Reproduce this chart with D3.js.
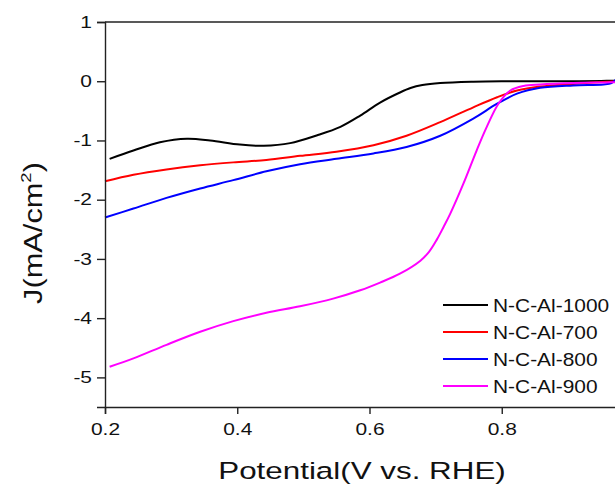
<!DOCTYPE html>
<html>
<head>
<meta charset="utf-8">
<script src="https://cdn.jsdelivr.net/npm/d3@7"></script>
<style>
  body { margin: 0; background: #fff; }
  svg { display: block; }
  text { font-family: "Liberation Sans", Arial, sans-serif; fill: #111; }
</style>
</head>
<body>
<div id="chart"></div>
<script>
// series values
var seriesNames = ["N-C-Al-1000", "N-C-Al-700", "N-C-Al-800", "N-C-Al-900"];
var seriesColors = ["#000000", "#ff0000", "#0000ff", "#ff00ff"];

var potential1000 = [0.207, 0.243, 0.283, 0.324, 0.359, 0.404, 0.44, 0.48, 0.52, 0.556, 0.586, 0.616, 0.646, 0.662, 0.68, 0.707, 0.757, 0.8, 0.85, 0.9, 0.95, 0.975];
var current1000   = [-1.31, -1.17, -1.03, -0.97, -1.0, -1.07, -1.09, -1.045, -0.915, -0.77, -0.58, -0.36, -0.19, -0.115, -0.065, -0.03, -0.007, 0, 0, 0, 0.005, 0.01];

var potential700 = [0.2, 0.243, 0.293, 0.344, 0.394, 0.444, 0.495, 0.55, 0.606, 0.656, 0.707, 0.757, 0.793, 0.823, 0.858, 0.908, 0.959, 0.975];
var current700   = [-1.69, -1.58, -1.49, -1.42, -1.37, -1.33, -1.26, -1.19, -1.08, -0.92, -0.69, -0.44, -0.27, -0.157, -0.09, -0.045, -0.01, 0.0];

var potential800 = [0.2, 0.243, 0.293, 0.344, 0.394, 0.444, 0.495, 0.55, 0.606, 0.656, 0.707, 0.757, 0.793, 0.823, 0.858, 0.908, 0.954, 0.966, 0.975];
var current800   = [-2.30, -2.15, -1.97, -1.81, -1.67, -1.52, -1.40, -1.31, -1.22, -1.11, -0.92, -0.63, -0.38, -0.21, -0.11, -0.07, -0.055, -0.03, 0.06];

var potential900 = [0.207, 0.243, 0.293, 0.344, 0.394, 0.444, 0.495, 0.545, 0.586, 0.616, 0.646, 0.677, 0.69, 0.702, 0.712, 0.722, 0.742, 0.762, 0.777, 0.795, 0.813, 0.833, 0.858, 0.908, 0.959, 0.975];
var current900   = [-4.82, -4.68, -4.45, -4.23, -4.05, -3.91, -3.80, -3.67, -3.53, -3.40, -3.25, -3.03, -2.88, -2.67, -2.46, -2.24, -1.73, -1.17, -0.78, -0.38, -0.157, -0.08, -0.055, -0.03, -0.02, -0.015];

var xTicks = [0.2, 0.4, 0.6, 0.8];
var yTicks = [1, 0, -1, -2, -3, -4, -5];

var potentials = [potential1000, potential700, potential800, potential900];
var currents = [current1000, current700, current800, current900];

var margin = {top: 22, right: -19, bottom: 81, left: 105},
    W = 615, H = 488,
    width = W - margin.left - margin.right,
    height = H - margin.top - margin.bottom;

var svg = d3.select("#chart").append("svg")
    .attr("width", W)
    .attr("height", H)
  .append("g")
    .attr("transform", "translate(" + margin.left + "," + margin.top + ")");

var x = d3.scaleLinear().domain([0.2, 1.0]).range([0, width]),
    y = d3.scaleLinear().domain([-5.5, 1]).range([height, 0]);

// stretch text along its direction (reference glyphs are wider than Arial)
function stretch(sel, k) {
  sel.each(function() {
    var w = this.getComputedTextLength();
    d3.select(this).attr("textLength", w * k).attr("lengthAdjust", "spacingAndGlyphs");
  });
}

// frame top
svg.append("line")
    .attr("x1", 0).attr("x2", width)
    .attr("y1", 0).attr("y2", 0)
    .attr("stroke", "#222").attr("stroke-width", 1.4);

var line = d3.line()
    .x(function(d) { return x(d[0]); })
    .y(function(d) { return y(d[1]); })
    .curve(d3.curveCatmullRom.alpha(0.5));

seriesNames.forEach(function(name, i) {
  var pts = potentials[i].map(function(v, k) { return [v, currents[i][k]]; });
  svg.append("path")
      .datum(pts)
      .attr("fill", "none")
      .attr("stroke", seriesColors[i])
      .attr("stroke-width", 2)
      .attr("d", line);
});

var xAxis = svg.append("g")
    .attr("class", "x-axis")
    .attr("transform", "translate(0," + height + ")")
    .call(d3.axisBottom(x).tickValues(xTicks).tickSize(7).tickPadding(9).tickFormat(d3.format(".1f")));

var yAxis = svg.append("g")
    .attr("class", "y-axis")
    .call(d3.axisLeft(y).tickValues(yTicks).tickSize(8).tickPadding(5).tickFormat(function(d) { return d; }));

svg.selectAll(".x-axis, .y-axis")
    .style("font-family", "Liberation Sans, Arial, sans-serif")
    .style("font-size", "16.5px")
    .style("color", "#222");
svg.selectAll(".domain, .tick line").attr("stroke-width", 1.4);
svg.selectAll(".tick text").attr("fill", "#111");
stretch(svg.selectAll(".tick text"), 1.27);

// axis titles
svg.append("text")
    .attr("x", 362 - margin.left)
    .attr("y", 479 - margin.top)
    .attr("text-anchor", "middle")
    .attr("font-size", "24.5px")
    .text("Potential(V vs. RHE)")
    .call(stretch, 1.28);

var yl = svg.append("g")
    .attr("transform", "translate(" + (42 - margin.left) + "," + (233 - margin.top) + ") rotate(-90) scale(1.23,1)");
var ylt = yl.append("text")
    .attr("text-anchor", "middle")
    .attr("font-size", "25px");
ylt.append("tspan").text("J(mA/cm");
ylt.append("tspan").attr("font-size", "15px").attr("dy", -11).text("2");
ylt.append("tspan").attr("dy", 11).text(")");

// legend
var legend = svg.append("g")
    .attr("transform", "translate(" + (443 - margin.left) + "," + (305 - margin.top) + ")");

seriesNames.forEach(function(name, i) {
  var row = legend.append("g").attr("transform", "translate(0," + (i * 27) + ")");
  row.append("line")
      .attr("x1", 0).attr("x2", 45)
      .attr("stroke", seriesColors[i])
      .attr("stroke-width", 2);
  row.append("text")
      .attr("x", 50)
      .attr("y", 7)
      .attr("font-size", "19px")
      .text(name)
      .call(stretch, 1.1);
});
</script>
</body>
</html>
